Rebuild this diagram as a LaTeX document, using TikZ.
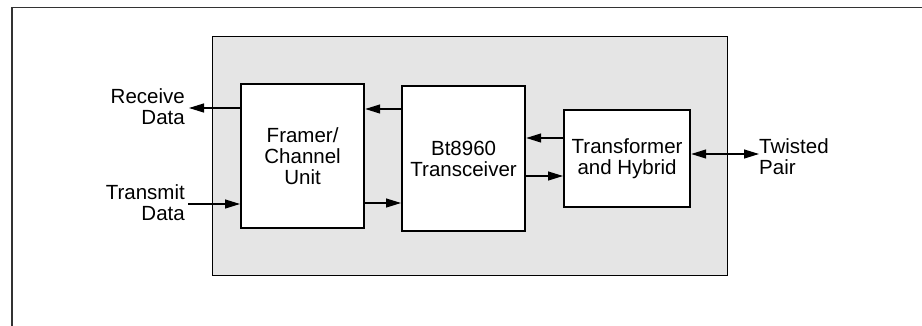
\documentclass[tikz,border=0pt]{standalone}
\usepackage{fontspec}
\setmainfont{Liberation Sans}
\usetikzlibrary{arrows.meta}
\begin{document}
\begin{tikzpicture}[x=1pt,y=-1pt,
  blk/.style={draw=black,line width=2.2pt,fill=white},
  lbl/.style={font=\fontsize{20.5}{21}\selectfont,inner sep=0pt},
  conn/.style={line width=1.2pt,-{Triangle[length=15pt,width=9pt]}},
  bconn/.style={line width=1.2pt,{Triangle[length=15pt,width=9pt]}-{Triangle[length=15pt,width=9pt]}}]
\useasboundingbox (0,0) rectangle (922,325);
\fill[white] (0,0) rectangle (922,325);
\draw[line width=1.8pt,draw=black!80] (12,330) -- (12,7.5) -- (930,7.5);
\draw[fill=black!10,line width=1pt] (212,36) rectangle (727,275);
\node[blk,minimum width=123pt,minimum height=144pt,anchor=north west] (fr) at (240,83) {};
\node[lbl,align=center] at (fr.center) {Framer/\\Channel\\Unit};
\node[blk,minimum width=123pt,minimum height=145pt,anchor=north west] (bt) at (401,85) {};
\node[lbl,align=center] at (bt.center) {Bt8960\\Transceiver};
\node[blk,minimum width=126pt,minimum height=97pt,anchor=north west] (tr) at (563,109) {};
\node[lbl,align=center] at (tr.center) {Transformer\\and Hybrid};
\coordinate (rx) at (189,108);
\coordinate (tx) at (188,204);
\coordinate (tp) at (759,154);
\node[lbl,align=right,anchor=east] (rxl) at (185,107) {Receive\\Data};
\node[lbl,align=right,anchor=east] (txl) at (185,203) {Transmit\\Data};
\node[lbl,align=left,anchor=west] (tpl) at (759,157) {Twisted\\Pair};
\draw[conn] (fr.west |- rx) -- (rx);
\draw[conn] (tx) -- (fr.west |- tx);
\draw[conn] (bt.west |- 0,109) -- (fr.east |- 0,109);
\draw[conn] (fr.east |- 0,203) -- (bt.west |- 0,203);
\draw[conn] (tr.west |- 0,138) -- (bt.east |- 0,138);
\draw[conn] (bt.east |- 0,176) -- (tr.west |- 0,176);
\draw[bconn] (tr.east |- tp) -- (tp);
\end{tikzpicture}
\end{document}
